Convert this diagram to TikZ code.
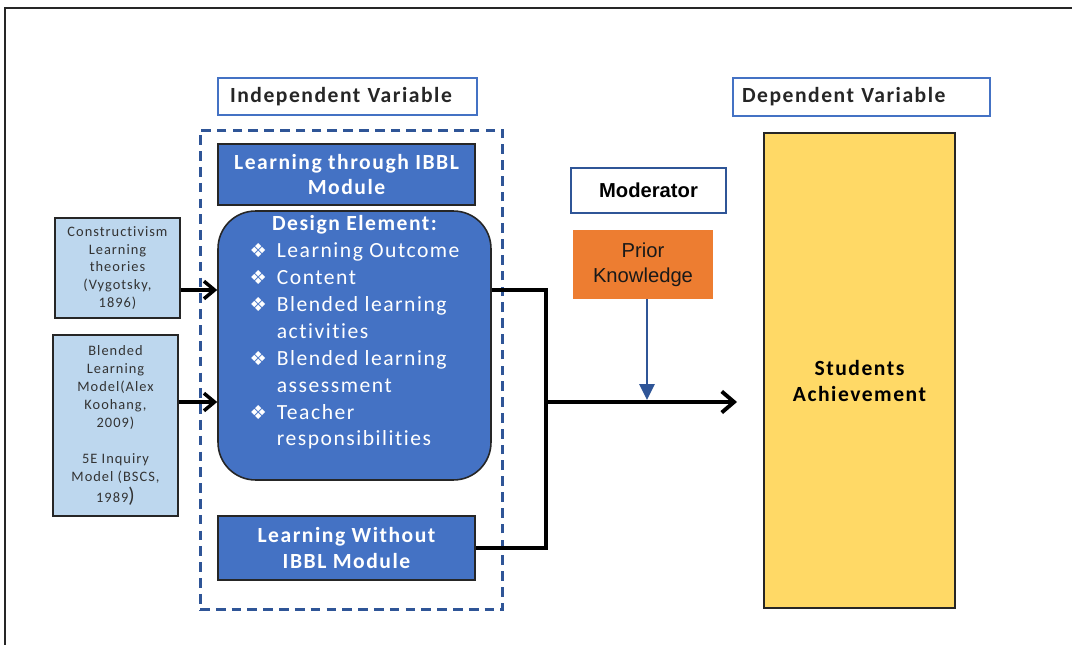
\documentclass[tikz,border=0pt]{standalone}
\usepackage{fontspec}
\setmainfont{Carlito}[LetterSpace=7, Ligatures=NoCommon]
\newfontfamily\arialf{Liberation Sans}
\newfontfamily\symf{DejaVu Sans}
\usetikzlibrary{arrows.meta}

\definecolor{boxblue}{HTML}{4472C4}
\definecolor{darkblue}{HTML}{2F5597}
\definecolor{paleblue}{HTML}{BDD7EE}
\definecolor{priororange}{HTML}{ED7D31}
\definecolor{gold}{HTML}{FFD966}

\newcommand\fHead{\fontsize{12.3}{14.7}\selectfont\bfseries}
\newcommand\fBody{\fontsize{12.3}{15.3}\selectfont}
\newcommand\fSmall{\fontsize{8.2}{10.2}\selectfont}
\newcommand\fArialB{\arialf\fontsize{11.5}{14.2}\selectfont\bfseries}
\newcommand\fArial{\arialf\fontsize{11.5}{14.2}\selectfont}
\newcommand\bul{{\symf\fontsize{11}{11}\selectfont ❖}}

% bullet list inside the design element box
\newcommand\designlist{%
  \begin{tabular}{@{}c@{\hspace{0.2cm}}l@{}}
    \multicolumn{2}{c}{\bfseries Design Element:}\\
    \bul & Learning Outcome\\
    \bul & Content\\
    \bul & Blended learning\\
         & activities\\
    \bul & Blended learning\\
         & assessment\\
    \bul & Teacher\\
         & responsibilities
  \end{tabular}}

\tikzset{
  frameline/.style={draw=black!85, line width=1.4pt},
  headbox/.style={draw=boxblue, line width=1.1pt, fill=white, text=black!85,
    font=\fHead, inner sep=0pt, align=left},
  groupbox/.style={draw=darkblue, line width=1.7pt,
    dash pattern=on 5.5pt off 3.5pt, inner sep=0pt},
  bluebox/.style={draw=black!85, line width=0.9pt, fill=boxblue, text=white,
    font=\fHead, align=center, inner sep=0pt},
  srcbox/.style={draw=black!85, line width=0.9pt, fill=paleblue, text=black!80,
    font=\fSmall, align=center, inner sep=0pt},
  modbox/.style={draw=darkblue, line width=0.7pt, fill=white, text=black,
    font=\fArialB, inner sep=0pt},
  priorbox/.style={fill=priororange, text=black!90, font=\fArial,
    align=center, inner sep=0pt},
  depbox/.style={draw=black!85, line width=0.9pt, fill=gold, inner sep=0pt},
  larr/.style={draw=black, line width=2pt,
    -{Straight Barb[length=6pt,width=10pt]}},
  joinline/.style={draw=black, line width=2.2pt, line join=miter},
  bigarr/.style={draw=black, line width=2.2pt,
    -{Straight Barb[length=7pt,width=12pt]}},
  bluearr/.style={draw=darkblue, line width=1.6pt,
    -{Triangle[length=9pt,width=8.5pt]}},
}

\begin{document}
\begin{tikzpicture}[x=0.02cm,y=-0.02cm]
\useasboundingbox (0,0) rectangle (1072,645);

% outer frame
\draw[frameline] (5,645) -- (5,8) -- (1072,8);

% headings
\node[headbox, minimum width=5.18cm, minimum height=0.74cm, text width=4.7cm] (iv) at (347.5,96.5) {Independent Variable};
\node[headbox, minimum width=5.14cm, minimum height=0.76cm, text width=4.78cm] (dv) at (861.5,97) {Dependent Variable};

% independent variable group
\node[groupbox, minimum width=6.06cm, minimum height=9.6cm] (ivgroup) at (351.5,370) {};
\node[bluebox, minimum width=5.14cm, minimum height=1.22cm] (through) at (346.5,174.5) {Learning through IBBL\\Module};
\node[bluebox, rounded corners=0.75cm, minimum width=5.46cm, minimum height=5.38cm,
  label={[yshift=0.25cm, text=white, font=\fBody]center:\designlist}] (design) at (354.5,345.5) {};
\node[bluebox, minimum width=5.14cm, minimum height=1.28cm] (without) at (346.5,548) {Learning Without\\IBBL Module};

% theoretical sources
\node[srcbox, minimum width=2.5cm, minimum height=2.0cm] (cons) at (117.5,268)
  {Constructivism\\Learning\\theories\\(Vygotsky,\\1896)};
\node[srcbox, minimum width=2.5cm, minimum height=3.62cm] (blend) at (115.5,425.5)
  {Blended\\Learning\\Model(Alex\\Koohang,\\2009)\\[10.2pt]5E Inquiry\\Model (BSCS,\\[2pt]1989{\large)}};

% moderator
\node[modbox, minimum width=3.1cm, minimum height=0.9cm] (moderator) at (648.5,190.5) {Moderator};
\node[priorbox, minimum width=2.8cm, minimum height=1.38cm] (prior) at (643,264.5) {Prior\\Knowledge};

% dependent variable
\node[depbox, minimum width=3.82cm, minimum height=9.5cm,
  label={[yshift=-0.21cm, font=\fHead, align=center, text=black]center:{Students\\Achievement}}] (students) at (859.5,370.5) {};

% connector points
\coordinate (inA) at (0,290);
\coordinate (inB) at (0,402);
\coordinate (junction) at (546,402);
\coordinate (target) at (737,402);
\coordinate (modpt) at (647,400);

% inputs into the design element
\draw[larr] (cons.east |- inA) -- (design.west |- inA);
\draw[larr] (blend.east |- inB) -- (design.west |- inB);

% both groups merge and lead to achievement
\draw[joinline] (design.east |- inA) -| (junction) -- (junction |- without.east) -- (without.east);
\draw[bigarr] (junction) -- (target);

% moderator effect
\draw[bluearr] (prior.south -| modpt) -- (modpt);
\end{tikzpicture}
\end{document}
